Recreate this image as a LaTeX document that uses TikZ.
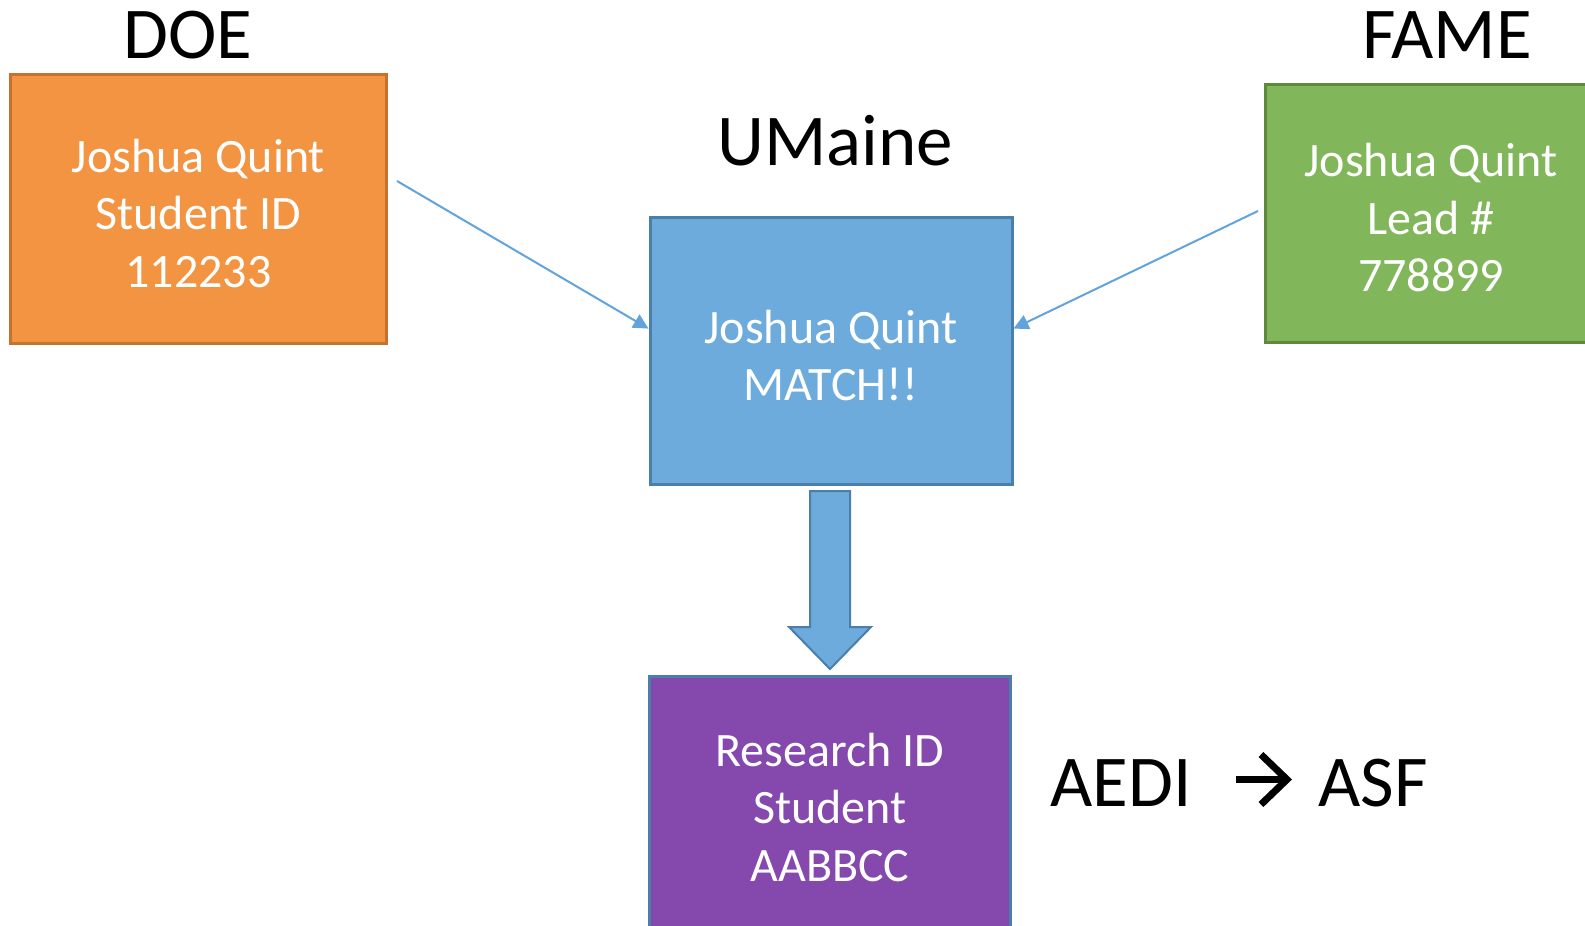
\documentclass[tikz,border=0pt]{standalone}
\usepackage{fontspec}
\setmainfont{Carlito}
\usepackage{xcolor}
\usetikzlibrary{positioning,calc,arrows.meta}

\definecolor{doefill}{HTML}{F29441}
\definecolor{doeline}{HTML}{C4722E}
\definecolor{umfill}{HTML}{6DABDC}
\definecolor{umline}{HTML}{4A7EAB}
\definecolor{famefill}{HTML}{82B65B}
\definecolor{fameline}{HTML}{5F8A3D}
\definecolor{resfill}{HTML}{8548AD}
\definecolor{linkcol}{HTML}{62A3DC}

% lowers the lines of a box a little
\newcommand{\boxstrut}{\rule{0pt}{21pt}}

\begin{document}
\begin{tikzpicture}[x=0.5pt, y=-0.5pt,
    box/.style={draw, line width=1.5pt, inner sep=0pt, align=center, text=white,
        font=\fontsize{24}{28.75}\selectfont},
    heading/.style={inner sep=0pt, font=\fontsize{36.5}{44}\selectfont},
    link/.style={draw=linkcol, line width=1pt, -{Triangle[length=7.5pt,width=7.5pt]}}]
    \useasboundingbox (0, 0) rectangle (1585, 926);

    % Sources
    \node [box, fill=doefill, draw=doeline, minimum width=188pt, minimum height=134.5pt]
        (doe) at (198.5, 209) {\boxstrut Joshua Quint\\Student ID\\112233};
    \node [box, fill=famefill, draw=fameline, minimum width=166pt, minimum height=129pt]
        (fame) at (1431, 213.5) {\boxstrut Joshua Quint\\Lead \#\\778899};
    \node [heading] (doelabel) at (188, 35) {DOE};
    \node [heading] (famelabel) at (1447, 35) {FAME};

    % Match
    \node [box, fill=umfill, draw=umline, minimum width=181pt, minimum height=133.5pt]
        (umaine) at (831, 351) {\boxstrut Joshua Quint\\MATCH!!};
    \node [heading] (umainelabel) at (835, 141) {UMaine};

    % Result
    \node [box, fill=resfill, draw=umline, minimum width=180.5pt, minimum height=126.5pt]
        (research) at (830, 803) {\boxstrut Research ID\\Student\\AABBCC};
    \node [heading, anchor=west] (aedi) at (1050, 783) {AEDI};
    \node [heading, anchor=west] (asf) at (1318, 783) {ASF};
    \draw [line width=3.5pt, shorten <=22pt, shorten >=13pt,
        -{Straight Barb[length=13pt,width=25pt]}]
        ([yshift=1.75pt]aedi.east) -- ([yshift=1.75pt]asf.west);

    % Links
    \coordinate (doeout) at (397, 181);
    \coordinate (fameout) at (1258, 211);
    \draw [link] (doeout) -- (umaine.173);
    \draw [link] (fameout) -- (umaine.7.5);

    % Down arrow
    \draw [fill=umfill, draw=umline, line width=1pt]
        (810, 491) -- (850, 491) -- (850, 627) -- (871, 627) -- (830, 669)
        -- (789, 627) -- (810, 627) -- cycle;
\end{tikzpicture}
\end{document}
